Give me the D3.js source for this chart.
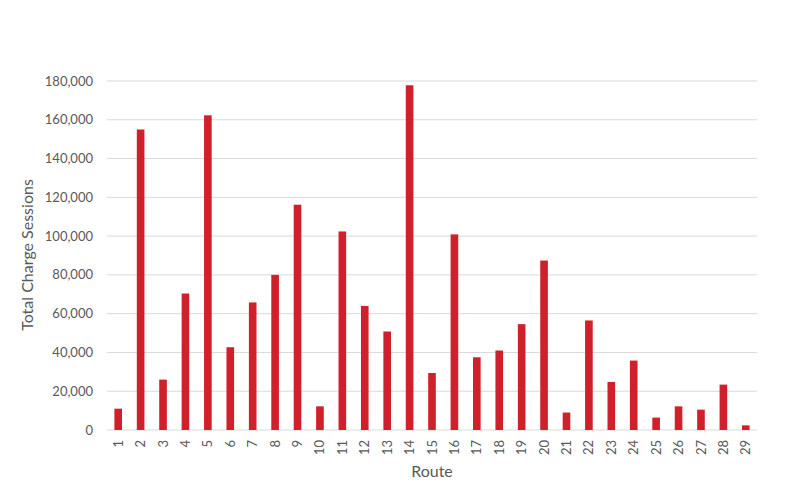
<!DOCTYPE html>
<html><head><meta charset="utf-8">
<script src="https://cdn.jsdelivr.net/npm/d3@7"></script>
<style>body{margin:0;background:#fff;} text{font-family:Lato,"Open Sans",sans-serif;}</style>
</head><body>
<svg id="c" width="800" height="500"></svg>
<script>
const routes = ["1","2","3","4","5","6","7","8","9","10","11","12","13","14","15","16","17","18","19","20","21","22","23","24","25","26","27","28","29"];
const sessions = [11000,155000,26000,70400,162300,42700,65800,80000,116200,12200,102400,64000,50800,177800,29400,100900,37500,41000,54600,87400,9000,56500,24800,35800,6400,12200,10500,23400,2400];
const yTicks = [0,20000,40000,60000,80000,100000,120000,140000,160000,180000];

const svg = d3.select("#c");
const m = {l:107, r:757, t:81, b:430};
const x = d3.scaleBand().domain(routes).range([m.l, m.r]).paddingInner(0.66).paddingOuter(0.33);
const y = d3.scaleLinear().domain([0,180000]).range([m.b, m.t]);
const fmt = d3.format(",");

svg.append("g").selectAll("line").data(yTicks).join("line")
  .attr("x1", m.l).attr("x2", m.r)
  .attr("y1", d=>y(d)).attr("y2", d=>y(d))
  .attr("stroke", "#d9d9d9").attr("stroke-width", 1);

svg.append("g").selectAll("text").data(yTicks).join("text")
  .attr("x", 93).attr("y", d=>y(d)).attr("dy","0.35em")
  .attr("text-anchor","end").attr("font-size","13px").attr("fill","#595959")
  .text(d=>fmt(d));

svg.append("g").selectAll("rect").data(routes).join("rect")
  .attr("x", d=>x(d)).attr("width", x.bandwidth())
  .attr("y", (d,i)=>y(sessions[i])).attr("height", (d,i)=>y(0)-y(sessions[i]))
  .attr("fill", "#d0202c");

svg.append("g").selectAll("text").data(routes).join("text")
  .attr("transform", d=>`translate(${x(d)+x.bandwidth()/2},440) rotate(-90)`)
  .attr("dy","0.35em").attr("text-anchor","end")
  .attr("font-size","13px").attr("fill","#595959").text(d=>d);

svg.append("text").attr("x", 432).attr("y", 477)
  .attr("text-anchor","middle").attr("font-size","16px").attr("fill","#595959").text("Route");

svg.append("text").attr("transform","translate(33,255) rotate(-90)")
  .attr("text-anchor","middle").attr("font-size","16px").attr("fill","#595959").text("Total Charge Sessions");
</script>
</body></html>
